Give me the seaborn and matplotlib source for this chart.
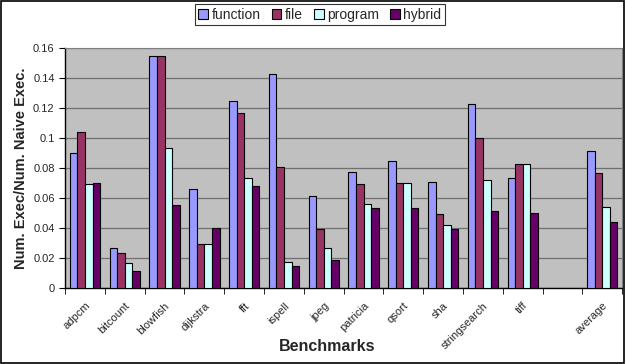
import pandas as pd
import seaborn as sns
import matplotlib.pyplot as plt
from matplotlib.ticker import FuncFormatter, FixedLocator

benchmarks = ['adpcm', 'bitcount', 'blowfish', 'dijkstra', 'fft', 'ispell', 'jpeg',
              'patricia', 'qsort', 'sha', 'stringsearch', 'tiff', 'average']
function = [0.090, 0.0265, 0.155, 0.066, 0.1245, 0.143, 0.0613, 0.0776, 0.0845, 0.0707, 0.1227, 0.073, 0.0913]
file_ = [0.104, 0.023, 0.155, 0.0293, 0.117, 0.0804, 0.039, 0.0693, 0.0698, 0.049, 0.100, 0.0825, 0.0767]
program = [0.0693, 0.0164, 0.093, 0.0293, 0.073, 0.017, 0.0264, 0.056, 0.0698, 0.0422, 0.072, 0.0825, 0.054]
hybrid = [0.070, 0.0116, 0.055, 0.040, 0.068, 0.0144, 0.0184, 0.053, 0.0533, 0.0393, 0.0516, 0.0498, 0.0438]

series = ['function', 'file', 'program', 'hybrid']
colors = ['#9999FF', '#993366', '#CCFFFF', '#660066']
order = benchmarks[:-1] + [' '] + ['average']

rows = []
for name, vals in zip(series, [function, file_, program, hybrid]):
    for b, v in zip(benchmarks, vals):
        rows.append({'bench': b, 'type': name, 'value': v})
df = pd.DataFrame(rows)

sns.set_style('white')
plt.rcParams['font.family'] = ['Liberation Sans', 'DejaVu Sans']

fig = plt.figure(figsize=(6.26, 3.64), dpi=100)
ax = fig.add_axes([0.104, 0.209, 0.89, 0.659])
ax.set_facecolor('#C0C0C0')

sns.barplot(data=df, x='bench', y='value', hue='type', order=order, hue_order=series,
            palette=colors, width=0.76, edgecolor='black', linewidth=0.8,
            saturation=1, ax=ax, zorder=3)

ax.set_ylim(0, 0.16)
ax.set_xlim(-0.5, len(order) - 0.5)
ax.set_yticks([0, 0.02, 0.04, 0.06, 0.08, 0.1, 0.12, 0.14, 0.16])
ax.yaxis.set_major_formatter(FuncFormatter(lambda v, p: '0' if v == 0 else ('%g' % round(v, 2))))
ax.yaxis.grid(True, color='#707070', linewidth=0.9, zorder=0)
ax.set_axisbelow(True)

# category labels centred, tick marks between categories (Excel style)
ax.set_xticks(range(len(order)))
ax.set_xticklabels(order, rotation=45, ha='right', rotation_mode='anchor', fontsize=8)
ax.tick_params(axis='x', length=0, pad=9)
ax.xaxis.set_minor_locator(FixedLocator([i - 0.5 for i in range(len(order) + 1)]))
ax.tick_params(axis='x', which='minor', length=4, direction='out', color='black', bottom=True)
ax.tick_params(axis='y', length=4, direction='out', color='black', left=True, labelsize=8)

for s in ['top', 'right']:
    ax.spines[s].set_color('#808080')
for s in ['left', 'bottom']:
    ax.spines[s].set_color('black')
    ax.spines[s].set_linewidth(1.0)

ax.set_xlabel('Benchmarks', fontsize=11.5, fontweight='bold')
ax.xaxis.set_label_coords(0.47, -0.215)
ax.set_ylabel('Num. Exec/Num. Naive Exec.', fontsize=10.5, fontweight='bold')

ax.get_legend().remove()
handles, labels = ax.get_legend_handles_labels()
leg = fig.legend(handles, labels, loc='upper center', bbox_to_anchor=(0.511, 0.988), ncol=4,
                 frameon=True, fancybox=False, edgecolor='black', fontsize=10,
                 handlelength=0.7, handleheight=0.7, handletextpad=0.25, columnspacing=0.8,
                 borderpad=0.25, borderaxespad=0)
leg.get_frame().set_linewidth(0.8)

fig.patches.append(plt.Rectangle((0.002, 0.003), 0.995, 0.993, transform=fig.transFigure,
                                 fill=False, edgecolor='black', linewidth=1.2))

fig.savefig('out.png', dpi=100)
